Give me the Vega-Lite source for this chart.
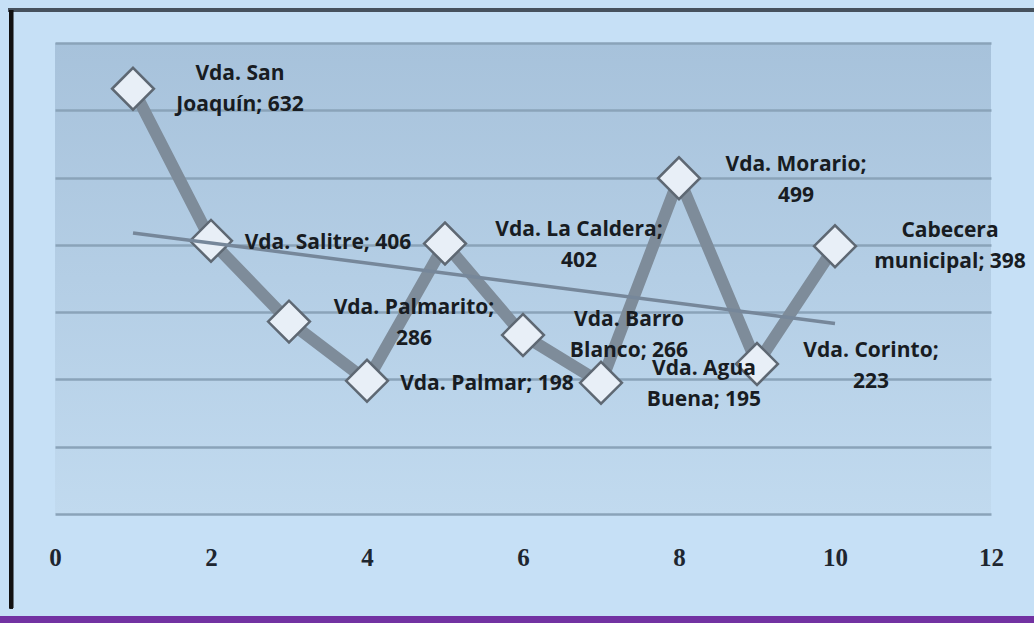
{
  "$schema": "https://vega.github.io/schema/vega-lite/v6.json",
  "width": 936,
  "height": 471,
  "autosize": {"type": "none"},
  "padding": {"left": 55, "top": 43, "right": 43, "bottom": 109},
  "background": "#c6e0f6",
  "config": {
    "view": {
      "stroke": null,
      "fill": {"gradient": "linear", "x1": 0, "y1": 0, "x2": 0, "y2": 1, "stops": [{"offset": 0, "color": "#a7c2db"}, {"offset": 1, "color": "#c1daef"}]}
    },
    "text": {"font": "Open Sans", "fontWeight": "bold", "fontSize": 21, "color": "#181c22", "lineHeight": 31, "baseline": "middle", "align": "center", "lineBreak": "\n"}
  },
  "data": {
    "values": [
      {"x": 1, "v": 632, "label": "Vda. San\nJoaquín; 632"},
      {"x": 2, "v": 406, "label": "Vda. Salitre; 406"},
      {"x": 3, "v": 286, "label": "Vda. Palmarito;\n286"},
      {"x": 4, "v": 198, "label": "Vda. Palmar; 198"},
      {"x": 5, "v": 402, "label": "Vda. La Caldera;\n402"},
      {"x": 6, "v": 266, "label": "Vda. Barro\nBlanco; 266"},
      {"x": 7, "v": 195, "label": "Vda. Agua\nBuena; 195"},
      {"x": 8, "v": 499, "label": "Vda. Morario;\n499"},
      {"x": 9, "v": 223, "label": "Vda. Corinto;\n223"},
      {"x": 10, "v": 398, "label": "Cabecera\nmunicipal; 398"}
    ]
  },
  "encoding": {
    "x": {
      "field": "x", "type": "quantitative",
      "scale": {"domain": [0, 12], "nice": false, "zero": false},
      "axis": {"values": [0, 2, 4, 6, 8, 10, 12], "title": null, "grid": false, "ticks": false, "domain": false, "labelFlush": false, "labelFont": "Liberation Serif", "labelFontWeight": "bold", "labelFontSize": 25, "labelColor": "#1e2630", "labelPadding": 31}
    },
    "y": {
      "field": "v", "type": "quantitative",
      "scale": {"domain": [0, 700], "nice": false},
      "axis": {"values": [0, 100, 200, 300, 400, 500, 600, 700], "title": null, "labels": false, "ticks": false, "domain": false, "grid": true, "gridColor": "#8aa3b9", "gridWidth": 2.5}
    }
  },
  "layer": [
    {"mark": {"type": "line", "color": "#7e8c9a", "strokeWidth": 12, "strokeJoin": "miter"}},
    {"mark": {"type": "point", "shape": "diamond", "size": 1750, "filled": true, "fill": "#e8eff7", "stroke": "#5e6873", "strokeWidth": 2.5, "opacity": 1}},
    {
      "transform": [{"regression": "v", "on": "x"}],
      "mark": {"type": "line", "color": "#76879a", "strokeWidth": 3.5}
    },
    {"transform": [{"filter": "datum.x == 1"}], "mark": {"type": "text", "dx": 107, "dy": -15}, "encoding": {"text": {"field": "label"}}},
    {"transform": [{"filter": "datum.x == 2"}], "mark": {"type": "text", "dx": 117, "dy": 2}, "encoding": {"text": {"field": "label"}}},
    {"transform": [{"filter": "datum.x == 3"}], "mark": {"type": "text", "dx": 125, "dy": -14}, "encoding": {"text": {"field": "label"}}},
    {"transform": [{"filter": "datum.x == 4"}], "mark": {"type": "text", "dx": 120, "dy": 3}, "encoding": {"text": {"field": "label"}}},
    {"transform": [{"filter": "datum.x == 5"}], "mark": {"type": "text", "dx": 134, "dy": -14}, "encoding": {"text": {"field": "label"}}},
    {"transform": [{"filter": "datum.x == 6"}], "mark": {"type": "text", "dx": 106, "dy": -15}, "encoding": {"text": {"field": "label"}}},
    {"transform": [{"filter": "datum.x == 7"}], "mark": {"type": "text", "dx": 103, "dy": -14}, "encoding": {"text": {"field": "label"}}},
    {"transform": [{"filter": "datum.x == 8"}], "mark": {"type": "text", "dx": 117, "dy": -13}, "encoding": {"text": {"field": "label"}}},
    {"transform": [{"filter": "datum.x == 9"}], "mark": {"type": "text", "dx": 114, "dy": -13}, "encoding": {"text": {"field": "label"}}},
    {"transform": [{"filter": "datum.x == 10"}], "mark": {"type": "text", "dx": 115, "dy": -15}, "encoding": {"text": {"field": "label"}}},
    {
      "mark": {"type": "rule", "color": "#46515d", "strokeWidth": 4, "clip": false},
      "encoding": {"x": {"datum": -0.6}, "x2": {"datum": 12.56}, "y": {"datum": 749}}
    },
    {
      "mark": {"type": "rule", "color": "#111111", "strokeWidth": 3.5, "clip": false},
      "encoding": {"x": {"datum": -0.56}, "y": {"datum": 749}, "y2": {"datum": -140}}
    },
    {
      "mark": {"type": "rule", "color": "#7232a2", "strokeWidth": 8, "clip": false},
      "encoding": {"x": {"datum": -0.71}, "x2": {"datum": 12.56}, "y": {"datum": -158}}
    }
  ]
}
